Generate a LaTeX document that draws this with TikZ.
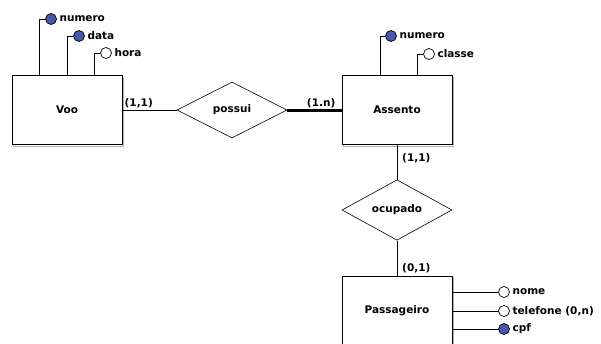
\documentclass[tikz,border=0pt]{standalone}
\usepackage{fontspec}
\setmainfont{DejaVu Sans}
\usepackage{tikz}
\usetikzlibrary{shapes.geometric,positioning}
\definecolor{keyblue}{RGB}{72,86,172}
\newcommand{\erfont}{\fontsize{10.5}{12}\selectfont\bfseries}
\tikzstyle{entity}=[rectangle,draw,fill=white,line width=0.9pt,minimum width=110pt,minimum height=69pt,font=\erfont,
  preaction={draw=black!30,line width=1pt,transform canvas={shift={(1.5pt,-1.5pt)}}}]
\tikzstyle{relation}=[diamond,draw,fill=white,line width=0.6pt,minimum width=110pt,minimum height=56pt,inner sep=0pt,font=\erfont]
\tikzstyle{attr}=[circle,draw,fill=white,line width=0.7pt,minimum size=11pt,inner sep=0pt]
\tikzstyle{keyattr}=[attr,fill=keyblue]
\tikzstyle{card}=[font=\erfont,inner sep=2pt]
\tikzstyle{link}=[draw,line width=0.8pt,-]

\begin{document}
\begin{tikzpicture}[x=1pt,y=-1pt,every label/.style={font=\erfont,inner sep=1pt},label distance=1.5pt]
    \useasboundingbox (0,0) rectangle (601,343);
    % Entities first
    \node[entity] (voo) at (67,110) {Voo};
    \node[entity] (assento) at (397,110) {Assento};
    \node[entity] (passageiro) at (397,310.5) {Passageiro};
    % Then the relationships
    \node[relation] (possui) at (232,110) {possui};
    \node[relation] (ocupado) at (397,210) {ocupado};
    % Attributes
    \foreach \name/\pos/\kind/\lbl in {vnum/{(51,19)}/keyattr/numero, vdata/{(79,36)}/keyattr/data,
        vhora/{(106,53)}/attr/hora, anum/{(391,36)}/keyattr/numero, acls/{(429,54)}/attr/classe,
        pnome/{(504,292)}/attr/nome, ptel/{(504,311)}/attr/{telefone (0,n)}, pcpf/{(504,329)}/keyattr/cpf}
        \node[\kind,label={right:\lbl}] (\name) at \pos {};
    % Connect attributes to their entities
    \path[link] ([xshift=-28pt]voo.north) |- (vnum.west);
    \path[link] (voo.north) |- (vdata.west);
    \path[link] ([xshift=27pt]voo.north) |- (vhora.west);
    \path[link] ([xshift=-17pt]assento.north) |- (anum.west);
    \path[link] ([xshift=20pt]assento.north) |- (acls.west);
    \foreach \a in {pnome,ptel,pcpf}
        \path[link] (\a.west) -- (\a.west -| passageiro.east);
    % Connect entities with relationships
    \path[link] (voo.east) -- (possui.west);
    \path[link,line width=3pt] (possui.east) -- (assento.west);
    \path[link] (assento.south) -- (ocupado.north);
    \path[link] (ocupado.south) -- (passageiro.north);
    % Cardinalities
    \node[card,anchor=south west] (cvoo) at (voo.east) {(1,1)};
    \node[card,anchor=south east] (cass) at ([xshift=-4pt]assento.west) {(1.n)};
    \node[card,anchor=north west] (cocup) at ([xshift=3pt,yshift=-6pt]assento.south) {(1,1)};
    \node[card,anchor=south west] (cpas) at ([xshift=3pt]passageiro.north) {(0,1)};
\end{tikzpicture}
\end{document}
